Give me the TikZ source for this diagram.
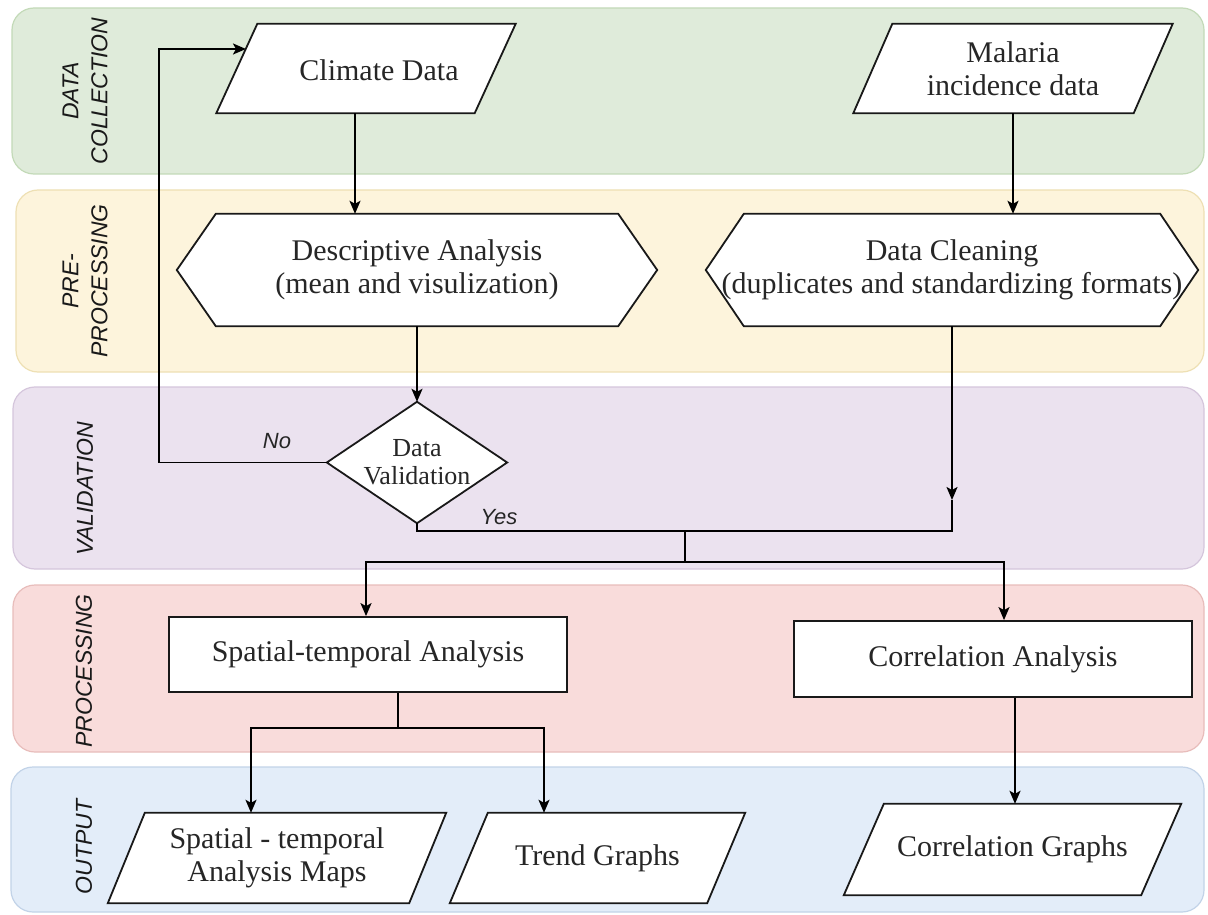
\documentclass[tikz,border=0pt]{standalone}
\usepackage{fontspec}
\setmainfont{Liberation Serif}
\newfontfamily\lanefont{Liberation Sans}
\usetikzlibrary{arrows.meta,calc}
\pgfdeclarelayer{lanes}
\pgfdeclarelayer{shapes}
\pgfsetlayers{lanes,shapes,main}
\definecolor{dcfill}{HTML}{DFEBDA}\definecolor{dcdraw}{HTML}{C3DAB8}
\definecolor{ppfill}{HTML}{FDF4DC}\definecolor{ppdraw}{HTML}{EEE0B4}
\definecolor{vafill}{HTML}{EBE2EF}\definecolor{vadraw}{HTML}{D5C6DC}
\definecolor{prfill}{HTML}{F9DCDB}\definecolor{prdraw}{HTML}{E8BDBB}
\definecolor{oufill}{HTML}{E3EDF9}\definecolor{oudraw}{HTML}{C2D3E8}
\definecolor{txtcol}{HTML}{262626}
\tikzset{
  lane/.style={rounded corners=22pt, line width=1.2pt},
  lanelbl/.style={font=\lanefont\itshape\fontsize{23}{29}\selectfont, rotate=90, align=center, text=black!90},
  txt/.style={font=\fontsize{30}{33}\selectfont, align=center, text=txtcol, inner sep=0pt},
  shapeline/.style={draw=black!90, fill=white, line width=1.8pt},
  procbox/.style={txt, shapeline},
  ln/.style={line width=1.9pt},
  arr/.style={line width=1.9pt, -{Stealth[length=13pt,width=11pt,inset=3pt]}},
  yn/.style={font=\lanefont\itshape\fontsize{22}{24}\selectfont, text=txtcol}
}
\newcommand{\drawpara}[2]{%
  \begin{pgfonlayer}{shapes}
  \draw[shapeline] ($(#1.north west)+(#2,0)$) -- (#1.north east) -- ($(#1.south east)-(#2,0)$) -- (#1.south west) -- cycle;
  \end{pgfonlayer}}
\newcommand{\drawhex}[2]{%
  \begin{pgfonlayer}{shapes}
  \draw[shapeline] (#1.west) -- ($(#1.north west)+(#2,0)$) -- ($(#1.north east)-(#2,0)$) -- (#1.east) -- ($(#1.south east)-(#2,0)$) -- ($(#1.south west)+(#2,0)$) -- cycle;
  \end{pgfonlayer}}
\newcommand{\drawdiam}[1]{%
  \begin{pgfonlayer}{shapes}
  \draw[shapeline] (#1.north) -- (#1.east) -- (#1.south) -- (#1.west) -- cycle;
  \end{pgfonlayer}}
\begin{document}
\begin{tikzpicture}[x=1pt,y=-1pt]
\useasboundingbox (0,0) rectangle (1208,915);
% lanes
\begin{pgfonlayer}{lanes}
\fill[white] (0,0) rectangle (1208,915);
\draw[lane, fill=dcfill, draw=dcdraw] (12,8) rectangle (1204,174);
\draw[lane, fill=ppfill, draw=ppdraw] (16,190) rectangle (1204,372);
\draw[lane, fill=vafill, draw=vadraw] (13,387) rectangle (1204,569);
\draw[lane, fill=prfill, draw=prdraw] (13,585) rectangle (1204,752);
\draw[lane, fill=oufill, draw=oudraw] (11,767) rectangle (1204,912);
\end{pgfonlayer}
\node[lanelbl] (l1) at (85,91) {DATA\\COLLECTION};
\node[lanelbl] (l2) at (85,281) {PRE-\\PROCESSING};
\node[lanelbl] (l3) at (85,489) {VALIDATION};
\node[lanelbl] (l4) at (84,671) {PROCESSING};
\node[lanelbl] (l5) at (84,847) {OUTPUT};
% nodes
\node[txt, minimum width=299pt, minimum height=89pt] (cd) at (366,68.5) {};
\node[txt] (cdt) at (379,70) {Climate Data};
\drawpara{cd}{41}
\node[txt, minimum width=319pt, minimum height=89pt] (mal) at (1013,68.5) {Malaria\\incidence data};
\drawpara{mal}{39}
\node[txt, minimum width=480pt, minimum height=112pt] (desc) at (417,270) {Descriptive Analysis\\(mean and visulization)};
\drawhex{desc}{39}
\node[txt, minimum width=492pt, minimum height=112pt] (dcl) at (952,270) {Data Cleaning\\(duplicates and standardizing formats)};
\drawhex{dcl}{38}
\node[txt, font=\fontsize{26}{28}\selectfont, minimum width=180pt, minimum height=121pt] (val) at (417,462.5) {Data\\Validation};
\drawdiam{val}
\node[procbox, minimum width=398pt, minimum height=75pt] (sta) at (368,654.5) {Spatial-temporal Analysis};
\node[procbox, minimum width=398pt, minimum height=76pt] (corr) at (993,659) {Correlation Analysis};
\node[txt, minimum width=338pt, minimum height=90pt] (maps) at (277,858) {Spatial - temporal\\Analysis Maps};
\drawpara{maps}{37}
\node[txt, minimum width=295pt, minimum height=90pt] (trend) at (597.5,858) {Trend Graphs};
\drawpara{trend}{38}
\node[txt, minimum width=337pt, minimum height=91pt] (cg) at (1012.5,849.5) {Correlation Graphs};
\drawpara{cg}{40}
% coordinates
\coordinate (loopin) at (246,49);
\coordinate (dcend) at (952,500);
\coordinate (j1) at (685,531);
\coordinate (j2) at (685,562);
\coordinate (j3) at (398,728);
% connectors
\draw[arr] ([xshift=-11pt]cd.south) -- ([xshift=-11pt]cd.south |- desc.north);
\draw[arr] (mal.south) -- (mal.south |- dcl.north);
\draw[arr] (desc.south) -- (val.north);
\draw[arr] (val.west) -- ++(-168,0) |- (loopin);
\node[yn] (no) at (277,441) {No};
\draw[arr] (dcl.south) -- (dcend);
\draw[ln] (dcend) |- (j1);
\draw[ln] (val.south) |- (j1);
\node[yn] (yes) at (499,517) {Yes};
\draw[ln] (j1) -- (j2);
\draw[arr] (j2) -| ([xshift=-2pt]sta.north);
\draw[arr] (j2) -| ([xshift=11pt]corr.north);
\draw[ln] ([xshift=30pt]sta.south) -- (j3);
\draw[arr] (j3) -| ([xshift=-26pt]maps.north);
\draw[arr] (j3) -| ([xshift=-53.5pt]trend.north);
\draw[arr] ([xshift=22pt]corr.south) -- ([xshift=22pt]corr.south |- cg.north);
\end{tikzpicture}
\end{document}
